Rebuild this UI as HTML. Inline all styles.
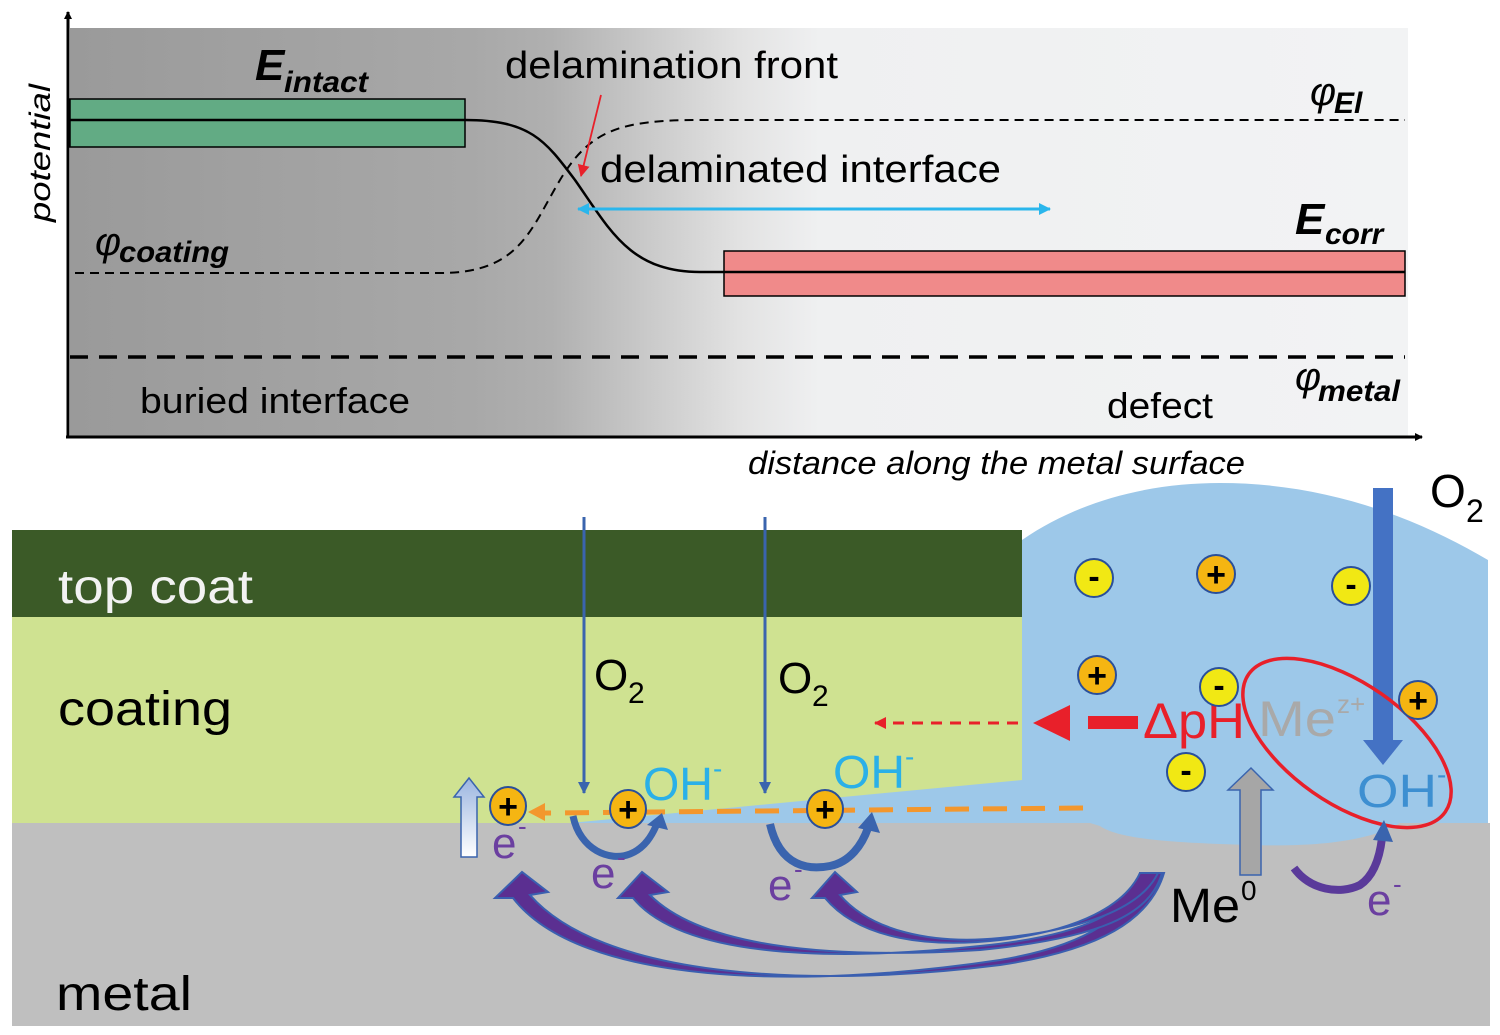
<!DOCTYPE html>
<html><head><meta charset="utf-8"><style>html,body{margin:0;padding:0;background:#fff}svg{display:block}</style></head>
<body>
<svg width="1500" height="1035" viewBox="0 0 1500 1035" xmlns="http://www.w3.org/2000/svg" font-family="Liberation Sans, sans-serif">
<defs>
<linearGradient id="bg" x1="70" x2="1408" y1="0" y2="0" gradientUnits="userSpaceOnUse">
<stop offset="0" stop-color="#9a9a9a"/><stop offset="0.3" stop-color="#a8a8a8"/><stop offset="0.36" stop-color="#b0b0b0"/><stop offset="0.5" stop-color="#e2e2e2"/><stop offset="0.56" stop-color="#eff0f1"/><stop offset="1" stop-color="#f2f3f4"/>
</linearGradient>
<linearGradient id="wa" x1="0" x2="0" y1="0" y2="1"><stop offset="0" stop-color="#9bb5e0"/><stop offset="1" stop-color="#ffffff"/></linearGradient>
<marker id="ah" markerWidth="8" markerHeight="8" refX="7" refY="4" orient="auto" markerUnits="userSpaceOnUse"><path d="M0,0 L8,4 L0,8z" fill="#000"/></marker>
<marker id="bh" markerWidth="12" markerHeight="12" refX="11" refY="6" orient="auto" markerUnits="userSpaceOnUse"><path d="M0,0 L12,6 L0,12z" fill="#3a64ae"/></marker>
<marker id="ch" markerWidth="12" markerHeight="12" refX="11" refY="6" orient="auto-start-reverse" markerUnits="userSpaceOnUse"><path d="M0,0 L12,6 L0,12z" fill="#2ab6ec"/></marker>
<marker id="rh" markerWidth="12" markerHeight="12" refX="11" refY="6" orient="auto" markerUnits="userSpaceOnUse"><path d="M0,0 L12,6 L0,12z" fill="#e8202a"/></marker>
</defs>
<rect x="70" y="28" width="1338" height="409" fill="url(#bg)"/>
<rect x="70" y="99" width="395" height="48" fill="#62ab84" stroke="#000" stroke-width="1.5"/>
<rect x="724" y="251" width="681" height="45" fill="#f08a8a" stroke="#000" stroke-width="1.5"/>
<path d="M70,120 L465,120 C530,120 545,140 575,180 C610,230 630,272 700,272 L1405,272" fill="none" stroke="#000" stroke-width="2.5"/>
<path d="M75,273 L440,273 C520,273 530,230 560,180 C590,130 620,120 700,120 L1405,120" fill="none" stroke="#000" stroke-width="2" stroke-dasharray="9,6"/>
<line x1="70" y1="357" x2="1405" y2="357" stroke="#000" stroke-width="3.5" stroke-dasharray="18,11"/>
<line x1="68" y1="437" x2="68" y2="12" stroke="#000" stroke-width="3" marker-end="url(#ah)"/>
<line x1="66" y1="437" x2="1422" y2="437" stroke="#000" stroke-width="3" marker-end="url(#ah)"/>
<text transform="translate(50,222) rotate(-90)" font-size="30" font-style="italic" textLength="138" lengthAdjust="spacingAndGlyphs">potential</text>
<text x="255" y="80" font-size="44" font-weight="bold" font-style="italic">E</text>
<text x="284" y="92" font-size="30" font-weight="bold" font-style="italic" textLength="84" lengthAdjust="spacingAndGlyphs">intact</text>
<text x="505" y="78" font-size="38" textLength="333" lengthAdjust="spacingAndGlyphs">delamination front</text>
<line x1="601" y1="95" x2="581" y2="176" stroke="#e8202a" stroke-width="1.8" marker-end="url(#rh)"/>
<text x="600" y="182" font-size="38" textLength="401" lengthAdjust="spacingAndGlyphs">delaminated interface</text>
<line x1="578" y1="209" x2="1050" y2="209" stroke="#2ab6ec" stroke-width="3" marker-start="url(#ch)" marker-end="url(#ch)"/>
<text x="1295" y="234" font-size="44" font-weight="bold" font-style="italic">E</text>
<text x="1325" y="244" font-size="30" font-weight="bold" font-style="italic">corr</text>
<text x="1310" y="105" font-size="40" font-style="italic">φ</text>
<text x="1334" y="113" font-size="30" font-weight="bold" font-style="italic">El</text>
<text x="95" y="255" font-size="40" font-style="italic">φ</text>
<text x="119" y="262" font-size="30" font-weight="bold" font-style="italic" textLength="110" lengthAdjust="spacingAndGlyphs">coating</text>
<text x="140" y="413" font-size="36" textLength="270" lengthAdjust="spacingAndGlyphs">buried interface</text>
<text x="1107" y="418" font-size="36" textLength="106" lengthAdjust="spacingAndGlyphs">defect</text>
<text x="1295" y="390" font-size="40" font-style="italic">φ</text>
<text x="1318" y="401" font-size="30" font-weight="bold" font-style="italic" textLength="82" lengthAdjust="spacingAndGlyphs">metal</text>
<text x="748" y="474" font-size="32" font-style="italic" textLength="497" lengthAdjust="spacingAndGlyphs">distance along the metal surface</text>
<rect x="12" y="823" width="1478" height="203" fill="#bfbfbf"/>
<rect x="12" y="617" width="1010" height="206" fill="#cfe291"/>
<rect x="12" y="530" width="1010" height="87" fill="#3b5a27"/>
<path d="M1022,540 C1080,500 1150,483 1220,483 C1330,483 1420,520 1488,560 L1488,823 L1400,823 C1380,835 1340,848 1250,845 C1180,843 1120,840 1100,826 L1090,823 L570,823 L1022,780 Z" fill="#9dc8e9"/>
<text x="58" y="603" font-size="48" fill="#f2f2f2" textLength="195" lengthAdjust="spacingAndGlyphs">top coat</text>
<text x="58" y="725" font-size="48" fill="#000" textLength="174" lengthAdjust="spacingAndGlyphs">coating</text>
<text x="56" y="1010" font-size="48" fill="#000" textLength="136" lengthAdjust="spacingAndGlyphs">metal</text>
<line x1="584" y1="517" x2="584" y2="793" stroke="#3a64ae" stroke-width="3" marker-end="url(#bh)"/>
<line x1="765" y1="517" x2="765" y2="793" stroke="#3a64ae" stroke-width="3" marker-end="url(#bh)"/>
<text x="594" y="690" font-size="44">O</text><text x="628" y="703" font-size="30">2</text>
<text x="778" y="693" font-size="44">O</text><text x="812" y="706" font-size="30">2</text>
<rect x="1373" y="488" width="20" height="255" fill="#4472c4"/>
<path d="M1363,740 L1403,740 L1383,765 Z" fill="#4472c4"/>
<text x="1430" y="507" font-size="46">O</text><text x="1466" y="522" font-size="32">2</text>
<line x1="1018" y1="723" x2="875" y2="723" stroke="#e8202a" stroke-width="3" stroke-dasharray="11,8" marker-end="url(#rh)"/>
<rect x="1088" y="716" width="50" height="13" fill="#e8202a"/>
<path d="M1070,705 L1070,741 L1033,723 Z" fill="#e8202a"/>
<text x="1143" y="738" font-size="50" fill="#e8202a" textLength="102" lengthAdjust="spacingAndGlyphs">ΔpH</text>
<text x="1258" y="736" font-size="50" fill="#a9a9a9" textLength="78" lengthAdjust="spacingAndGlyphs">Me</text>
<text x="1337" y="713" font-size="26" fill="#a9a9a9">z+</text>
<ellipse cx="1347" cy="743" rx="120" ry="60" transform="rotate(35 1347 743)" fill="none" stroke="#e8202a" stroke-width="3.5"/>
<text x="1357" y="807" font-size="46" fill="#3d8fd1" textLength="80" lengthAdjust="spacingAndGlyphs">OH</text><text x="1437" y="784" font-size="28" fill="#3d8fd1">-</text>
<line x1="1083" y1="808" x2="545" y2="813" stroke="#f3972d" stroke-width="5" stroke-dasharray="24,14"/>
<path d="M528,812 L545,803 L545,821 Z" fill="#f3972d"/>
<text x="643" y="800" font-size="46" fill="#2ab0e8" textLength="70" lengthAdjust="spacingAndGlyphs">OH</text><text x="713" y="778" font-size="28" fill="#2ab0e8">-</text>
<text x="833" y="788" font-size="46" fill="#2ab0e8" textLength="72" lengthAdjust="spacingAndGlyphs">OH</text><text x="905" y="766" font-size="28" fill="#2ab0e8">-</text>
<path d="M1240,875 L1240,790 L1228,790 L1251,768 L1273,790 L1261,790 L1261,875 Z" fill="#a6a6a6" stroke="#3a64ae" stroke-width="1.5"/>
<path d="M461,857 L461,797 L454,797 L469,778 L484,797 L477,797 L477,857 Z" fill="url(#wa)" stroke="#3a64ae" stroke-width="1.5"/>
<path d="M573,816 C580,850 610,862 630,854 C645,848 652,835 656,826" fill="none" stroke="#3a64ae" stroke-width="7"/>
<path d="M647,825 L662,813 L668,830 Z" fill="#3a64ae"/>
<path d="M770,824 C780,868 810,870 830,866 C850,862 862,845 868,828" fill="none" stroke="#3a64ae" stroke-width="8"/>
<path d="M858,828 L872,812 L880,833 Z" fill="#3a64ae"/>
<path d="M1294,868 C1310,890 1340,895 1360,885 C1375,875 1380,855 1382,838" fill="none" stroke="#5a3a9a" stroke-width="8"/>
<path d="M1373,840 L1384,820 L1393,842 Z" fill="#3a64ae"/>
<g fill="#5b2f91" stroke="#3a5fb0" stroke-width="2">
<path d="M1140,873 L1164,873 C1150,920 1100,950 1000,965 C800,990 600,975 530,895 L548,892 L522,872 L495,898 L513,898 C580,985 800,990 1000,960 C1090,945 1130,915 1140,873 Z"/>
<path d="M1140,873 L1162,873 C1150,915 1100,938 980,950 C820,960 700,945 650,895 L668,892 L642,872 L618,898 L633,898 C680,955 820,963 980,946 C1090,935 1130,910 1140,873 Z"/>
<path d="M1140,873 L1158,873 C1140,910 1080,930 1000,938 C930,945 870,930 840,895 L857,892 L835,872 L812,898 L825,898 C860,940 930,948 1000,940 C1080,930 1125,905 1140,873 Z"/>
</g>
<g fill="#6b3fa0" font-size="44">
<text x="492" y="858">e</text><text x="518" y="835" font-size="26">-</text>
<text x="591" y="888">e</text><text x="617" y="866" font-size="26">-</text>
<text x="768" y="900">e</text><text x="794" y="878" font-size="26">-</text>
<text x="1367" y="915">e</text><text x="1393" y="893" font-size="26">-</text>
</g>
<text x="1170" y="922" font-size="48" textLength="70" lengthAdjust="spacingAndGlyphs">Me</text><text x="1241" y="900" font-size="28">0</text>
<g stroke="#2a4f9a" stroke-width="2">
<ellipse cx="508" cy="806" rx="18" ry="19" fill="#f5b512"/>
<ellipse cx="628" cy="809" rx="18" ry="19" fill="#f5b512"/>
<ellipse cx="825" cy="809" rx="18" ry="19" fill="#f5b512"/>
<circle cx="1216" cy="574" r="19" fill="#f5b512"/>
<circle cx="1097" cy="675" r="19" fill="#f5b512"/>
<circle cx="1418" cy="700" r="19" fill="#f5b512"/>
<circle cx="1094" cy="578" r="19" fill="#f1e814"/>
<circle cx="1351" cy="586" r="19" fill="#f1e814"/>
<circle cx="1219" cy="687" r="19" fill="#f1e814"/>
<circle cx="1186" cy="772" r="19" fill="#f1e814"/>
</g>
<g font-size="34" font-weight="bold" text-anchor="middle">
<text x="508" y="818">+</text><text x="628" y="821">+</text><text x="825" y="821">+</text>
<text x="1216" y="586">+</text><text x="1097" y="687">+</text><text x="1418" y="712">+</text>
<text x="1094" y="588">-</text><text x="1351" y="596">-</text><text x="1219" y="697">-</text><text x="1186" y="782">-</text>
</g>
</svg>
</body></html>
